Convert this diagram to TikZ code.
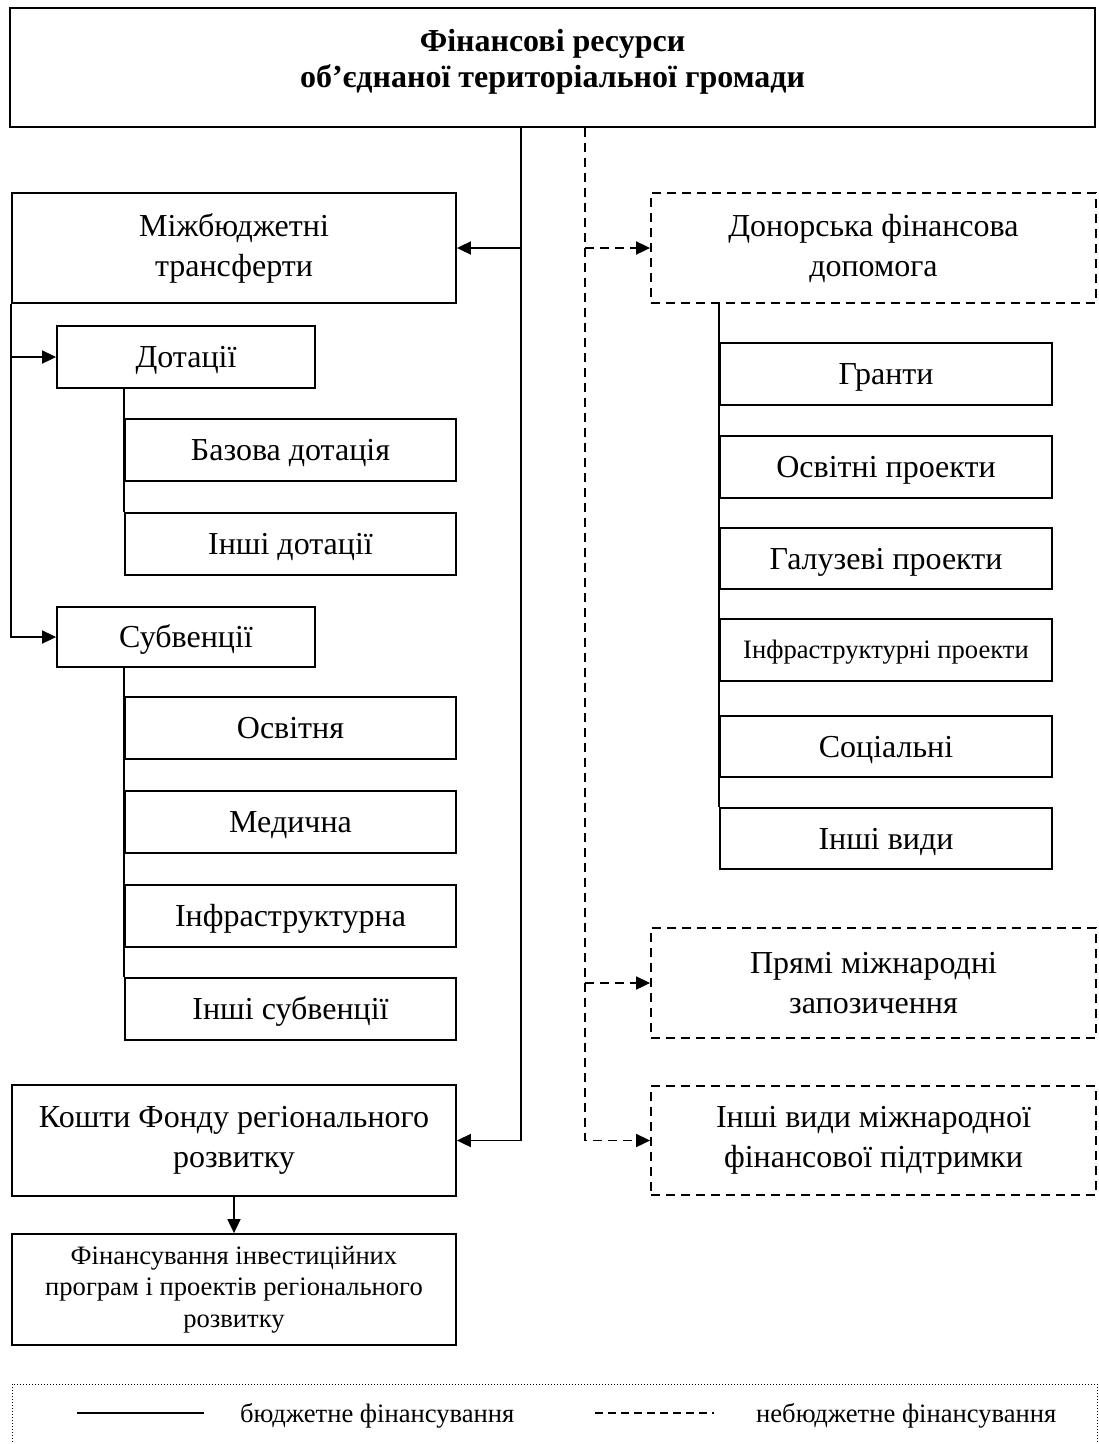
\documentclass[tikz,border=0pt]{standalone}
\usepackage{fontspec}
\setmainfont{Liberation Serif}
\usetikzlibrary{arrows.meta}
\newcommand\myfs[2]{\fontsize{#1}{#2}\selectfont}
\tikzset{
  box/.style={draw, line width=1.8pt, inner sep=2pt, align=center, font=\myfs{32}{40}},
  one/.style={draw, line width=1.8pt, inner sep=2pt, font=\myfs{32}{40}, text height=21pt, text depth=0pt},
  dbox/.style={box, dash pattern=on 9pt off 6pt},
  smallbox/.style={box, font=\myfs{26.6}{31.5}},
  smallone/.style={one, font=\myfs{26.6}{31.5}, text height=17.5pt},
  conn/.style={line width=1.8pt},
  dconn/.style={line width=1.8pt, dash pattern=on 9pt off 6pt},
  arr/.style={-{Triangle[length=14pt,width=13pt]}},
  legtext/.style={anchor=base west, inner sep=0pt, font=\myfs{26.6}{31}}
}
\begin{document}
\begin{tikzpicture}[x=1pt,y=-1pt]
\useasboundingbox (0,0) rectangle (1099,1444);
\fill[white] (0,0) rectangle (1099,1444);

% top
\node[draw, line width=2.6pt, minimum width=1085pt, minimum height=119pt, inner sep=0pt] (top) at (552.5,67.5) {};
\node[align=center, font=\bfseries\myfs{32}{36}, inner sep=0pt] (toptxt) at (552.5,62) {Фінансові ресурси\\об’єднаної територіальної громади};

% left column
\node[box, minimum width=444pt, minimum height=110pt] (mt) at (234,248) {Міжбюджетні\\трансферти};
\node[one, minimum width=258pt, minimum height=62pt] (dot) at (186,357) {Дотації};
\node[one, minimum width=331pt, minimum height=62pt] (baz) at (290.5,450) {Базова дотація};
\node[one, minimum width=331pt, minimum height=62pt] (insd) at (290.5,544) {Інші дотації};
\node[one, minimum width=258pt, minimum height=60pt] (sub) at (186,637) {Субвенції};
\node[one, minimum width=331pt, minimum height=62pt] (osv) at (290.5,728) {Освітня};
\node[one, minimum width=331pt, minimum height=62pt] (med) at (290.5,822) {Медична};
\node[one, minimum width=331pt, minimum height=62pt] (infra) at (290.5,916) {Інфраструктурна};
\node[one, minimum width=331pt, minimum height=62pt] (inss) at (290.5,1009) {Інші субвенції};
\node[box, minimum width=444pt, minimum height=111pt] (kosh) at (234,1140.5) {Кошти Фонду регіонального\\розвитку};
\node[smallbox, minimum width=444pt, minimum height=111pt] (fin) at (234,1289.5) {Фінансування інвестиційних\\програм і проектів регіонального\\розвитку};

% right column
\node[dbox, minimum width=445pt, minimum height=110pt] (don) at (873.5,248) {Донорська фінансова\\допомога};
\node[one, minimum width=332pt, minimum height=62pt] (hr) at (886,374) {Гранти};
\node[one, minimum width=332pt, minimum height=62pt] (osp) at (886,467) {Освітні проекти};
\node[one, minimum width=332pt, minimum height=61pt] (hal) at (886,558.5) {Галузеві проекти};
\node[smallone, minimum width=332pt, minimum height=62pt] (infp) at (886,650) {Інфраструктурні проекти};
\node[one, minimum width=332pt, minimum height=61pt] (soc) at (886,746.5) {Соціальні};
\node[one, minimum width=332pt, minimum height=61pt] (inv) at (886,838.5) {Інші види};
\node[dbox, minimum width=445pt, minimum height=110pt] (pr) at (873.5,983) {Прямі міжнародні\\запозичення};
\node[dbox, minimum width=445pt, minimum height=109pt] (imf) at (873.5,1140.5) {Інші види міжнародної\\фінансової підтримки};

% trunk coordinates
\coordinate (sx) at (521,0);
\coordinate (dx) at (585,0);

% solid connectors
\draw[conn, arr] (top.south -| sx) |- (kosh.east);
\draw[conn, arr] (sx |- mt.east) -- (mt.east);
\draw[conn, arr] (mt.south west) |- (sub.west);
\draw[conn, arr] (mt.south west |- dot.west) -- (dot.west);
\draw[conn] (dot.south -| baz.west) -- (insd.north west);
\draw[conn] (sub.south -| osv.west) -- (inss.north west);
\draw[conn, arr] (kosh.south) -- (fin.north);
\draw[conn] (don.south -| hr.west) -- (inv.north west);

% dashed connectors
\draw[dconn, arr] (top.south -| dx) |- (imf.west);
\draw[dconn, arr] (dx |- don.west) -- (don.west);
\draw[dconn, arr] (dx |- pr.west) -- (pr.west);

% legend
\draw[line width=1pt, dash pattern=on 1pt off 2pt] (12,1460) -- (12,1384) -- (1097,1384) -- (1097,1460);
\coordinate (l1a) at (77,1413);
\coordinate (l1b) at (204,1413);
\coordinate (l2a) at (595,1413);
\coordinate (l2b) at (714,1413);
\draw[conn] (l1a) -- (l1b);
\draw[line width=1.6pt, dash pattern=on 8pt off 5pt] (l2a) -- (l2b);
\node[legtext] (lt1) at (240,1422) {бюджетне фінансування};
\node[legtext] (lt2) at (756,1422) {небюджетне фінансування};
\end{tikzpicture}
\end{document}
